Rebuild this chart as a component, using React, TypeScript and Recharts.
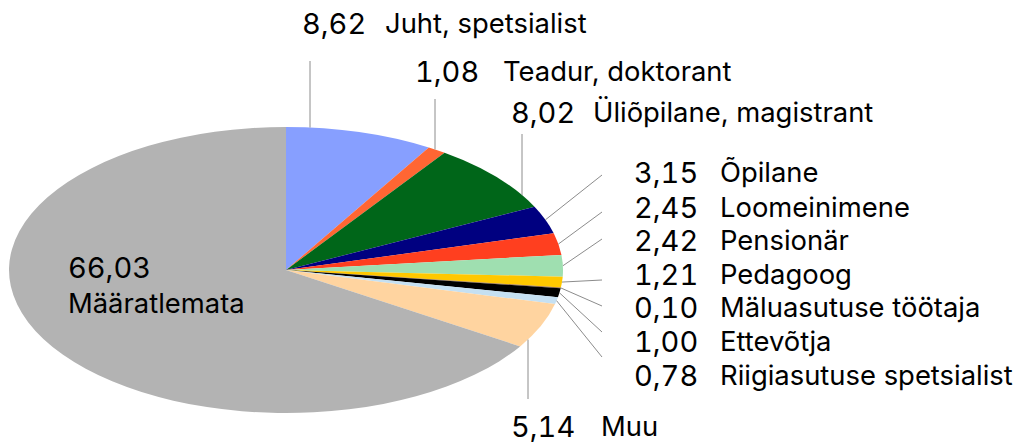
import React from 'react';
import { PieChart, Pie, Cell, Sector } from 'recharts';

const categories = [
  'Juht, spetsialist',
  'Teadur, doktorant',
  'Üliõpilane, magistrant',
  'Õpilane',
  'Loomeinimene',
  'Pensionär',
  'Pedagoog',
  'Mäluasutuse töötaja',
  'Ettevõtja',
  'Riigiasutuse spetsialist',
  'Muu',
  'Määratlemata',
];
const values = [8.62, 1.08, 8.02, 3.15, 2.45, 2.42, 1.21, 0.1, 1.0, 0.78, 5.14, 66.03];
const valueLabels = ['8,62', '1,08', '8,02', '3,15', '2,45', '2,42', '1,21', '0,10', '1,00', '0,78', '5,14', '66,03'];

const colors = [
  '#879fff', '#ff6633', '#006619', '#000080', '#ff3f1f', '#9fdfb0',
  '#ffc800', '#996633', '#000000', '#c5e0f2', '#ffd4a0', '#b3b3b3',
];

const data = categories.map((name, i) => ({ name, value: values[i], label: valueLabels[i] }));

const W = 1022;
const H = 443;
const CX = 278;
const CY = 262;
const R = 277;
const K = 143 / 277;
const FS_NUM = 29;
const FS_NAME = 27.4;
const FONT = 'Inter, "Noto Sans", sans-serif';
const LINE = '#8c8c8c';

// label layout (chart coordinates)
type Lay = { numX: number; nameX: number; y: number; kind: 'top' | 'bottom' | 'side' | 'inside'; lx?: number; ly?: number; y2?: number };
const layout: Lay[] = [
  { numX: 294, nameX: 377, y: 15, kind: 'top', lx: 302, ly: 53 },
  { numX: 407, nameX: 495, y: 63, kind: 'top', lx: 427, ly: 91 },
  { numX: 503, nameX: 585, y: 104, kind: 'top', lx: 514, ly: 126 },
  { numX: 626, nameX: 712, y: 164, kind: 'side', lx: 594, ly: 167 },
  { numX: 626, nameX: 712, y: 199, kind: 'side', lx: 594, ly: 204 },
  { numX: 626, nameX: 712, y: 232, kind: 'side', lx: 594, ly: 231 },
  { numX: 626, nameX: 712, y: 266, kind: 'side', lx: 594, ly: 272 },
  { numX: 626, nameX: 712, y: 299, kind: 'side', lx: 594, ly: 298 },
  { numX: 626, nameX: 712, y: 333, kind: 'side', lx: 594, ly: 324 },
  { numX: 626, nameX: 712, y: 367, kind: 'side', lx: 594, ly: 349 },
  { numX: 503, nameX: 593, y: 418, kind: 'bottom', lx: 520, ly: 391 },
  { numX: 60, nameX: 60, y: 259, kind: 'inside', y2: 295 },
];

const EllipseSector = (props: any) => {
  const cy = props.cy;
  return (
    <g transform={`translate(0 ${cy}) scale(1 ${K}) translate(0 ${-cy})`}>
      <Sector {...props} stroke="none" />
    </g>
  );
};

const RAD = Math.PI / 180;

const renderLabel = (props: any) => {
  const { cx, cy, outerRadius, midAngle, index } = props;
  const lay = layout[index];
  const d = data[index];
  const num = { fontFamily: FONT, fontSize: FS_NUM, fill: '#000', style: { fontVariantNumeric: 'tabular-nums' } } as const;
  const nm = { fontFamily: FONT, fontSize: FS_NAME, fill: '#000' } as const;
  if (lay.kind === 'inside') {
    return (
      <g>
        <text x={lay.numX} y={lay.y} dominantBaseline="central" {...num}>{d.label}</text>
        <text x={lay.nameX} y={lay.y2} dominantBaseline="central" {...nm}>{d.name}</text>
      </g>
    );
  }
  let x1 = 0, y1 = 0;
  if (lay.kind === 'side') {
    x1 = cx + outerRadius * Math.cos(-midAngle * RAD);
    y1 = cy + outerRadius * Math.sin(-midAngle * RAD) * K;
  } else {
    const dx = (lay.lx as number) - cx;
    const h = K * Math.sqrt(Math.max(0, outerRadius * outerRadius - dx * dx));
    x1 = lay.lx as number;
    y1 = lay.kind === 'top' ? cy - h : cy + h;
  }
  return (
    <g>
      <line x1={x1} y1={y1} x2={lay.lx} y2={lay.ly} stroke={LINE} strokeWidth={1} />
      <text x={lay.numX} y={lay.y} dominantBaseline="central" {...num}>{d.label}</text>
      <text x={lay.nameX} y={lay.y} dominantBaseline="central" {...nm}>{d.name}</text>
    </g>
  );
};

export default function App() {
  return (
    <div style={{ width: W, height: H }}>
      <style>{'.recharts-surface{overflow:visible}'}</style>
      <PieChart width={W} height={H} margin={{ top: 0, right: 0, bottom: 0, left: 0 }}>
        <Pie
          data={data}
          dataKey="value"
          nameKey="name"
          cx={CX}
          cy={CY}
          outerRadius={R}
          startAngle={90}
          endAngle={-270}
          stroke="none"
          shape={EllipseSector}
          label={renderLabel}
          labelLine={false}
          isAnimationActive={false}
        >
          {data.map((_, i) => (
            <Cell key={i} fill={colors[i]} />
          ))}
        </Pie>
      </PieChart>
    </div>
  );
}
